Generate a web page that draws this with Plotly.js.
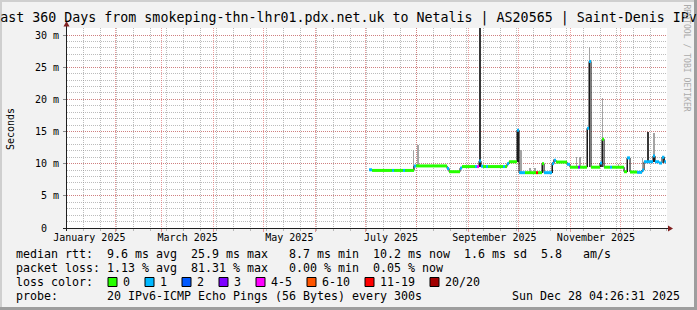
<!DOCTYPE html>
<html><head><meta charset="utf-8">
<script src="https://cdn.plot.ly/plotly-3.0.1.min.js"></script>
<style>html,body{margin:0;padding:0;background:#f2f2f2;overflow:hidden}#chart{width:697px;height:310px}</style>
</head><body><div id="chart"></div><script>
// ---- data ----
const medianTime = ['2025-07-03 10:00','2025-07-05 05:00','2025-07-17 05:00','2025-07-18 10:00','2025-07-23 19:00','2025-07-25 00:00',
 '2025-07-30 10:00','2025-07-31 14:00','2025-08-19 05:00','2025-08-20 10:00','2025-08-27 00:00','2025-08-28 05:00',
 '2025-09-05 00:00','2025-09-06 05:00','2025-09-07 10:00','2025-09-08 14:00','2025-09-09 19:00','2025-09-11 14:00',
 '2025-09-12 19:00','2025-09-21 19:00','2025-09-23 00:00','2025-09-24 05:00','2025-09-25 10:00','2025-09-30 05:00',
 '2025-10-01 10:00','2025-10-05 00:00','2025-10-11 14:00','2025-10-12 19:00','2025-10-15 05:00','2025-10-16 10:00',
 '2025-10-21 05:00','2025-10-22 10:00','2025-10-23 14:00','2025-10-30 05:00','2025-11-01 00:00','2025-11-05 19:00',
 '2025-11-07 00:00','2025-11-11 05:00','2025-11-12 10:00','2025-11-13 14:00','2025-11-19 00:00','2025-11-20 05:00',
 '2025-11-21 10:00','2025-11-25 00:00','2025-11-26 05:00','2025-12-03 10:00','2025-12-05 05:00','2025-12-07 00:00',
 '2025-12-11 05:00','2025-12-14 05:00','2025-12-15 10:00','2025-12-20 19:00','2025-12-22 00:00','2025-12-24 10:00',
 '2025-12-26 05:00','2025-12-27 14:00'];
const medianRtt = [9.05,8.95,8.95,8.95,8.95,8.95,
 9.65,9.65,9.25,8.75,9.3,9.55,
 9.55,9.55,10.4,9.6,9.55,9.55,
 9.55,9.55,9.55,10.0,10.3,15.2,
 8.6,8.6,8.6,8.6,10.0,8.6,
 10.0,10.55,10.25,9.9,9.45,9.45,
 9.45,15.5,25.9,9.45,10.1,13.8,
 9.45,9.45,9.45,8.75,10.9,8.7,
 8.65,9.0,10.3,11.2,10.3,10.1,
 11.0,10.3];
const medianLoss = [1,0,1,0,1,0,
 1,0,1,0,1,0,
 1,4,1,1,0,1,
 0,1,0,1,0,1,
 1,0,6,0,0,1,
 1,1,0,1,0,3,
 0,1,1,0,1,0,
 0,1,0,0,1,0,
 1,1,1,1,1,1,
 1,1];
const medianEnd = '2025-12-28 14:00';

const darkSmokeTime = ['2025-09-07 22:00','2025-09-30 19:00','2025-10-15 14:00','2025-10-21 14:00','2025-11-11 12:00','2025-11-12 19:00',
 '2025-11-19 14:00','2025-11-20 14:00','2025-12-05 14:00','2025-12-17 19:00','2025-12-21 10:00','2025-12-27 00:00'];
const darkSmokeLow  = [9.55,10.3,8.6,8.6,9.45,9.45,9.45,9.45,8.7,10.3,10.3,10.1];
const darkSmokeHigh = [31.5,15.4,10.0,10.3,15.6,26.0,10.2,13.9,11.0,15.0,11.3,11.1];

const lightSmokeTime = ['2025-07-30 00:00','2025-08-01 19:00','2025-10-02 14:00','2025-10-08 00:00','2025-10-11 00:00','2025-10-22 10:00',
 '2025-11-04 22:00','2025-11-07 00:00','2025-11-12 19:00','2025-11-20 14:00','2025-11-30 00:00','2025-12-14 10:00','2025-12-21 10:00'];
const lightSmokeLow  = [8.95,9.65,8.6,8.6,8.6,10.3,9.45,9.45,26.0,13.9,9.45,8.7,11.3];
const lightSmokeHigh = [12.1,12.9,12.2,9.4,9.4,10.8,11.0,11.0,28.2,20.2,9.9,10.9,14.8];

const monthStarts = ['2025-01-01','2025-02-01','2025-03-01','2025-04-01','2025-05-01','2025-06-01','2025-07-01',
 '2025-08-01','2025-09-01','2025-10-01','2025-11-01','2025-12-01'];
const labelDates = ['2025-01-16 14:00','2025-03-16 14:00','2025-05-16 14:00','2025-07-16 14:00','2025-09-16 14:00','2025-11-16 14:00'];
const labelText = ['January 2025','March 2025','May 2025','July 2025','September 2025','November 2025'];
const yTickVals = [0,5,10,15,20,25,30];
const yTickText = ['0\u00a0\u00a0','5\u00a0m','10\u00a0m','15\u00a0m','20\u00a0m','25\u00a0m','30\u00a0m'];

const lossLabels = ['0','1','2','3','4-5','6-10','11-19','20/20'];
const lossColors = ['#26ff00','#00b8ff','#0059ff','#7e00ff','#ff00ff','#ff5500','#ff0000','#a10000'];

const rttStats = ['9.6','25.9','8.7','10.2','1.6','5.8'];
const lossStats = ['1.13','81.31','0.00','0.05'];
const titleText = 'Last 360 Days from smokeping-thn-lhr01.pdx.net.uk to Netalis | AS20565 | Saint-Denis IPv6';
const probeText = '20 IPv6-ICMP Echo Pings (56 Bytes) every 300s';
const nowText = 'Sun Dec 28 04:26:31 2025';

// ---- build ----
const rangeStart = '2025-01-03 04:26:31', rangeEnd = '2025-12-29 04:26:31';
const pxMs = 0.6 * 86400000;
const L = 67, T = 28, PW = 600, PH = 200;
const X = px => (px - L) / PW;
const Y = py => (T + PH - py) / PH;
const nb = s => s.replace(/ /g, '\u00a0');
const mono = 'DejaVu Sans Mono';

// minor x grid every 10 days from the start day
const minorX = [];
for (let t = Date.UTC(2025,0,3); t < Date.UTC(2025,11,30); t += 10*86400000) {
  minorX.push(new Date(t).toISOString().slice(0,10));
}

const traces = [];
traces.push({type:'bar', x: lightSmokeTime, base: lightSmokeLow, y: lightSmokeHigh.map((h,i)=>h-lightSmokeLow[i]),
  width: 1.6*pxMs, marker:{color:'#a4a4a4', line:{width:0}}, hoverinfo:'skip', showlegend:false});
traces.push({type:'bar', x: darkSmokeTime, base: darkSmokeLow, y: darkSmokeHigh.map((h,i)=>h-darkSmokeLow[i]),
  width: 1.6*pxMs, marker:{color:'#383838', line:{width:0}}, hoverinfo:'skip', showlegend:false});
traces.push({type:'scatter', mode:'lines', x: medianTime.concat([medianEnd]), y: medianRtt.concat([medianRtt[medianRtt.length-1]]),
  line:{shape:'hv', color:'#000', width:1}, hoverinfo:'skip', showlegend:false});
for (let k = 0; k < lossColors.length; k++) {
  const xs = [], ys = [];
  for (let i = 0; i < medianTime.length; i++) {
    if (medianLoss[i] !== k) continue;
    const t1 = i + 1 < medianTime.length ? medianTime[i+1] : medianEnd;
    xs.push(medianTime[i], t1, null); ys.push(medianRtt[i], medianRtt[i], null);
  }
  if (xs.length) traces.push({type:'scatter', mode:'lines', x: xs, y: ys, connectgaps:false,
    line:{color: lossColors[k], width:3}, hoverinfo:'skip', showlegend:false});
}
traces.push({type:'scatter', mode:'lines', x:[labelDates[0]], y:[null], xaxis:'x2', yaxis:'y', hoverinfo:'skip', showlegend:false});

const gridRed = 'rgba(222,79,79,0.55)', gridGray = 'rgba(143,143,143,0.6)';
const shapes = [];
// frame
shapes.push({type:'rect', xref:'paper', yref:'paper', x0:X(0), x1:X(697), y0:Y(2), y1:Y(0), fillcolor:'#cfcfcf', line:{width:0}});
shapes.push({type:'rect', xref:'paper', yref:'paper', x0:X(0), x1:X(2), y0:Y(310), y1:Y(0), fillcolor:'#cfcfcf', line:{width:0}});
shapes.push({type:'rect', xref:'paper', yref:'paper', x0:X(0), x1:X(697), y0:Y(310), y1:Y(307), fillcolor:'#9e9e9e', line:{width:0}});
shapes.push({type:'rect', xref:'paper', yref:'paper', x0:X(694), x1:X(697), y0:Y(310), y1:Y(0), fillcolor:'#9e9e9e', line:{width:0}});
// axes
shapes.push({type:'line', xref:'paper', yref:'paper', x0:X(63), x1:X(669), y0:Y(228.5), y1:Y(228.5), line:{color:'#1f1f1f', width:1}});
shapes.push({type:'line', xref:'paper', yref:'paper', x0:X(66.5), x1:X(66.5), y0:Y(231), y1:Y(25), line:{color:'#1f1f1f', width:1}});
shapes.push({type:'path', xref:'paper', yref:'paper', path:`M ${X(668)} ${Y(225.5)} L ${X(673)} ${Y(228.5)} L ${X(668)} ${Y(231.5)} Z`, fillcolor:'#801f1f', line:{width:0}});
shapes.push({type:'path', xref:'paper', yref:'paper', path:`M ${X(63.5)} ${Y(26.5)} L ${X(66.5)} ${Y(21)} L ${X(69.5)} ${Y(26.5)} Z`, fillcolor:'#801f1f', line:{width:0}});

const annotations = [];
const rowY = [254, 268, 282, 296];
const rows = [
  `median rtt:  ${rttStats[0]} ms avg  ${rttStats[1]} ms max   ${rttStats[2]} ms min  ${rttStats[3]} ms now  ${rttStats[4]} ms sd  ${rttStats[5]}   am/s`,
  `packet loss: ${lossStats[0]} % avg  ${lossStats[1]} % max   ${lossStats[2]} % min  ${lossStats[3]} % now`,
  'loss color:',
  `probe:       ${probeText}`
];
rows.forEach((r, i) => annotations.push({xref:'paper', yref:'paper', x:X(16), y:Y(rowY[i]), xanchor:'left', yanchor:'middle',
  text: nb(r), showarrow:false, borderpad:0, borderwidth:0, font:{family:mono, size:11.63, color:'#000'}}));
annotations.push({xref:'paper', yref:'paper', x:X(680), y:Y(rowY[3]), xanchor:'right', yanchor:'middle',
  text: nb(nowText), showarrow:false, borderpad:0, borderwidth:0, font:{family:mono, size:11.63, color:'#000'}});
let bx = 108;
lossLabels.forEach((lab, i) => {
  shapes.push({type:'rect', xref:'paper', yref:'paper', x0:X(bx), x1:X(bx+9), y0:Y(286.5), y1:Y(277.5), fillcolor:lossColors[i], line:{color:'#000', width:1}});
  annotations.push({xref:'paper', yref:'paper', x:X(bx+15), y:Y(rowY[2]), xanchor:'left', yanchor:'middle',
    text: lab, showarrow:false, borderpad:0, borderwidth:0, font:{family:mono, size:11.63, color:'#000'}});
  bx += 30 + 7 * lab.length;
});
annotations.push({xref:'paper', yref:'paper', x:X(10), y:Y(129), xanchor:'center', yanchor:'middle', textangle:-90,
  text:'Seconds', showarrow:false, borderpad:0, borderwidth:0, font:{family:mono, size:10, color:'#000'}});
annotations.push({xref:'paper', yref:'paper', x:X(686.5), y:Y(58), xanchor:'center', yanchor:'middle', textangle:90,
  text:nb('RRDTOOL / TOBI OETIKER'), showarrow:false, borderpad:0, borderwidth:0, font:{family:mono, size:8.1, color:'#ababab'}});

const layout = {
  width:697, height:310, margin:{l:L, r:697-L-PW, t:T, b:310-T-PH, pad:0},
  paper_bgcolor:'#f2f2f2', plot_bgcolor:'#ffffff',
  font:{family:mono, size:10, color:'#000'},
  showlegend:false, barmode:'overlay', bargap:0,
  title:{text:titleText, font:{family:mono, size:13.3, color:'#000'}, xref:'container', x:0.5, xanchor:'center',
    yref:'container', y:1-17/310, yanchor:'middle'},
  xaxis:{type:'date', range:[rangeStart, rangeEnd], tickmode:'array', tickvals:monthStarts, ticktext:monthStarts.map(()=>''),
    showgrid:true, gridcolor:gridRed, griddash:'1px,1px', gridwidth:1, ticks:'outside', ticklen:3, tickcolor:gridRed,
    showline:false, zeroline:false, fixedrange:true,
    minor:{tickmode:'array', tickvals:minorX, showgrid:true, gridcolor:gridGray, griddash:'1px,1px', gridwidth:1, ticks:'outside', ticklen:2, tickcolor:gridGray}},
  xaxis2:{type:'date', overlaying:'x', matches:'x', range:[rangeStart, rangeEnd], side:'bottom', anchor:'y', tickmode:'array', tickvals:labelDates, ticktext:labelText,
    showgrid:false, ticks:'', showline:false, zeroline:false, ticklabelstandoff:2, tickfont:{family:mono, size:10, color:'#000'}},
  yaxis:{range:[0, 31.09], tickmode:'array', tickvals:yTickVals, ticktext:yTickText, showgrid:true, gridcolor:gridRed, griddash:'1px,1px', gridwidth:1,
    ticks:'outside', ticklen:3, tickcolor:'#888', showline:false, zeroline:false, fixedrange:true, ticklabelstandoff:2,
    tickfont:{family:mono, size:10, color:'#000'},
    minor:{tick0:0, dtick:1, showgrid:true, gridcolor:gridGray, griddash:'1px,1px', gridwidth:1}},
  shapes, annotations
};
Plotly.newPlot('chart', traces, layout, {staticPlot:true, displayModeBar:false});
</script></body></html>
